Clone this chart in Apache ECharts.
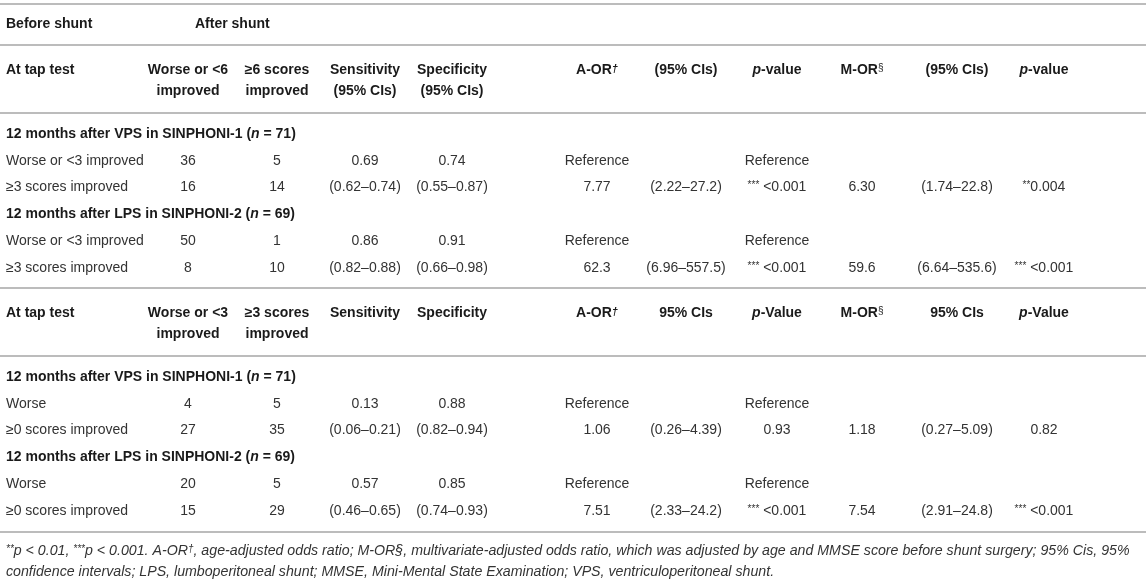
<!DOCTYPE html>
<html>
<head>
<meta charset="utf-8">
<script src="https://cdn.jsdelivr.net/npm/echarts@6/dist/echarts.min.js"></script>
<style>
  html, body { margin: 0; padding: 0; background: #fff; }
  #main { width: 1146px; height: 587px; }
</style>
</head>
<body>
<div id="main"></div>
<script>
// table content
var topHeader = ['Before shunt', 'After shunt'];

var headers1 = [
  ['At tap test'], ['Worse or <6', 'improved'], ['≥6 scores', 'improved'],
  ['Sensitivity', '(95% CIs)'], ['Specificity', '(95% CIs)'], ['A-OR{dag|†}'],
  ['(95% CIs)'], ['{i|p}-value'], ['M-OR{sup2|§}'], ['(95% CIs)'], ['{i|p}-value']
];
var headers2 = [
  ['At tap test'], ['Worse or <3', 'improved'], ['≥3 scores', 'improved'],
  ['Sensitivity'], ['Specificity'], ['A-OR{dag|†}'],
  ['95% CIs'], ['{i|p}-Value'], ['M-OR{sup2|§}'], ['95% CIs'], ['{i|p}-Value']
];

var groups1 = ['12 months after VPS in SINPHONI-1 ({i|n} = 71)', '12 months after LPS in SINPHONI-2 ({i|n} = 69)'];
var groups2 = ['12 months after VPS in SINPHONI-1 ({i|n} = 71)', '12 months after LPS in SINPHONI-2 ({i|n} = 69)'];

var rows1a = [
  ['Worse or <3 improved', '36', '5', '0.69', '0.74', 'Reference', '', 'Reference', '', '', ''],
  ['≥3 scores improved', '16', '14', '(0.62–0.74)', '(0.55–0.87)', '7.77', '(2.22–27.2)', '{sup|***} <0.001', '6.30', '(1.74–22.8)', '{sup|**}0.004']
];
var rows1b = [
  ['Worse or <3 improved', '50', '1', '0.86', '0.91', 'Reference', '', 'Reference', '', '', ''],
  ['≥3 scores improved', '8', '10', '(0.82–0.88)', '(0.66–0.98)', '62.3', '(6.96–557.5)', '{sup|***} <0.001', '59.6', '(6.64–535.6)', '{sup|***} <0.001']
];
var rows2a = [
  ['Worse', '4', '5', '0.13', '0.88', 'Reference', '', 'Reference', '', '', ''],
  ['≥0 scores improved', '27', '35', '(0.06–0.21)', '(0.82–0.94)', '1.06', '(0.26–4.39)', '0.93', '1.18', '(0.27–5.09)', '0.82']
];
var rows2b = [
  ['Worse', '20', '5', '0.57', '0.85', 'Reference', '', 'Reference', '', '', ''],
  ['≥0 scores improved', '15', '29', '(0.46–0.65)', '(0.74–0.93)', '7.51', '(2.33–24.2)', '{sup|***} <0.001', '7.54', '(2.91–24.8)', '{sup|***} <0.001']
];

var footnotes = [
  '{sup|**}p < 0.01, {sup|***}p < 0.001. A-OR{sup|†}, age-adjusted odds ratio; M-OR§, multivariate-adjusted odds ratio, which was adjusted by age and MMSE score before shunt surgery; 95% Cis, 95%',
  'confidence intervals; LPS, lumboperitoneal shunt; MMSE, Mini-Mental State Examination; VPS, ventriculoperitoneal shunt.'
];

// layout
var W = 1146;
var FONT = '"Liberation Sans", Arial, Helvetica, sans-serif';
var colX = [6, 188, 277, 365, 452, 597, 686, 777, 862, 957, 1044];
var ruleY = [4, 45, 113, 288, 356, 532];
var pitch = 26.8;

function rich(weight, size, color, italic) {
  var base = { fontFamily: FONT, fontWeight: weight, fontSize: size, fill: color, fontStyle: italic ? 'italic' : 'normal' };
  return {
    i: Object.assign({}, base, { fontStyle: 'italic' }),
    sup: Object.assign({}, base, { fontSize: 10, verticalAlign: 'top' }),
    sup2: Object.assign({}, base, { fontSize: 10, fontWeight: 'normal', verticalAlign: 'top' }),
    dag: Object.assign({}, base, { fontSize: 11, fontStyle: 'italic', verticalAlign: 'top' })
  };
}

var els = [];

function text(str, x, y, align, bold, size, italic) {
  var color = bold ? '#1a1a1a' : '#333';
  els.push({
    type: 'text', x: x, y: y, silent: true,
    style: {
      text: str, align: align, verticalAlign: 'middle',
      fontFamily: FONT, fontSize: size || 14, fontWeight: bold ? 'bold' : 'normal',
      fontStyle: italic ? 'italic' : 'normal', fill: color,
      rich: rich(bold ? 'bold' : 'normal', size || 14, color, italic)
    }
  });
}

ruleY.forEach(function (y) {
  els.push({ type: 'line', silent: true, shape: { x1: 0, y1: y, x2: W, y2: y }, style: { stroke: '#bcbcbc', lineWidth: 2 } });
});

text(topHeader[0], colX[0], 24, 'left', true);
text(topHeader[1], 195, 24, 'left', true);

function header(hdr, y0) {
  hdr.forEach(function (lines, c) {
    lines.forEach(function (s, k) {
      text(s, colX[c], y0 + k * 21, c === 0 ? 'left' : 'center', true);
    });
  });
}

function section(groups, rowSets, y0) {
  var y = y0;
  groups.forEach(function (g, gi) {
    text(g, colX[0], y, 'left', true);
    y += pitch;
    rowSets[gi].forEach(function (r) {
      r.forEach(function (s, c) {
        if (s) text(s, colX[c], y, c === 0 ? 'left' : 'center', false);
      });
      y += pitch;
    });
  });
}

header(headers1, 70);
section(groups1, [rows1a, rows1b], 134);
header(headers2, 313);
section(groups2, [rows2a, rows2b], 377);

footnotes.forEach(function (s, k) {
  text(s, colX[0], 551 + k * 21, 'left', false, 14.2, true);
});

var chart = echarts.init(document.getElementById('main'));
chart.setOption({
  backgroundColor: '#fff',
  animation: false,
  graphic: { elements: els }
});
</script>
</body>
</html>
